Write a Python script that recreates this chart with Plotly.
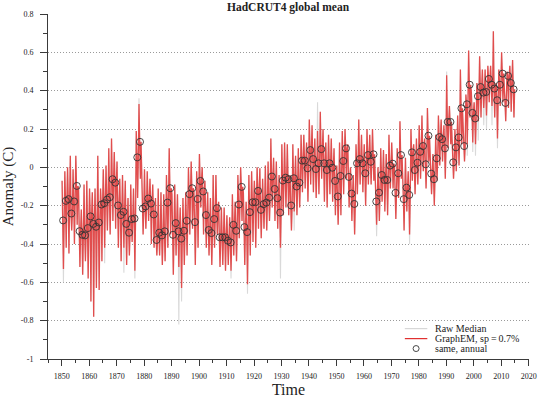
import plotly.graph_objects as go

# ---------------- data ----------------
years = list(range(1850, 2015))

annual = [
    -0.277, -0.175, -0.166, -0.241, -0.178, -0.097, -0.333, -0.352, -0.355, -0.317,  # 1850s
    -0.256, -0.295, -0.310, -0.288, -0.194, -0.187, -0.168, -0.156, -0.062, -0.080,  # 1860s
    -0.199, -0.249, -0.232, -0.295, -0.341, -0.270, -0.267, 0.052, 0.133, -0.215,    # 1870s
    -0.204, -0.163, -0.189, -0.246, -0.379, -0.341, -0.355, -0.334, -0.184, -0.109,  # 1880s
    -0.352, -0.291, -0.334, -0.372, -0.331, -0.279, -0.140, -0.109, -0.286, -0.165,  # 1890s
    -0.071, -0.126, -0.249, -0.327, -0.343, -0.270, -0.213, -0.365, -0.365, -0.365,  # 1900s
    -0.383, -0.392, -0.300, -0.331, -0.194, -0.102, -0.312, -0.338, -0.234, -0.182,  # 1910s
    -0.182, -0.123, -0.222, -0.192, -0.184, -0.158, -0.048, -0.113, -0.161, -0.236,  # 1920s
    -0.069, -0.054, -0.062, -0.199, -0.057, -0.100, -0.080, 0.035, 0.035, -0.005,    # 1930s
    0.090, 0.043, -0.009, 0.021, 0.095, 0.021, -0.014, 0.021, -0.002, -0.071,        # 1940s
    -0.152, -0.045, 0.033, 0.099, -0.050, -0.137, -0.191, 0.021, 0.043, 0.021,       # 1950s
    -0.031, 0.064, 0.029, 0.068, -0.178, -0.132, -0.040, -0.066, -0.066, 0.009,      # 1960s
    0.019, -0.133, -0.031, 0.064, -0.166, -0.106, -0.144, 0.078, -0.014, 0.024,      # 1970s
    0.081, 0.111, 0.016, 0.165, -0.033, -0.062, 0.047, 0.158, 0.147, 0.099,          # 1980s
    0.237, 0.237, 0.026, 0.104, 0.156, 0.308, 0.111, 0.329, 0.431, 0.284,            # 1990s
    0.255, 0.371, 0.419, 0.390, 0.393, 0.461, 0.431, 0.411, 0.350, 0.431,            # 2000s
    0.489, 0.336, 0.477, 0.440, 0.407,                                               # 2010s
]

# monthly GraphEM series, summarised by the upper / lower excursion in each year
graphem_hi = [
    -0.07, -0.02, 0.00, 0.06, -0.01, 0.06, -0.11, -0.22, -0.09, -0.07,
    -0.11, -0.13, -0.11, 0.06, -0.11, -0.01, 0.01, 0.10, 0.15, 0.08,
    0.03, -0.06, -0.04, -0.07, -0.16, -0.09, -0.11, 0.19, 0.33, -0.04,
    -0.01, -0.02, -0.06, -0.09, -0.16, -0.11, -0.13, -0.14, -0.04, 0.10,
    -0.14, -0.09, -0.14, -0.21, -0.16, -0.13, 0.00, 0.03, -0.13, -0.02,
    0.07, 0.00, -0.07, -0.13, -0.16, -0.04, -0.04, -0.18, -0.21, -0.21,
    -0.25, -0.26, -0.14, -0.18, -0.04, 0.00, -0.13, -0.18, -0.04, -0.02,
    -0.07, 0.00, -0.005, -0.06, 0.01, 0.03, 0.15, 0.05, 0.03, -0.04,
    0.12, 0.13, 0.12, -0.04, 0.12, 0.06, 0.10, 0.17, 0.17, 0.13,
    0.25, 0.22, 0.15, 0.19, 0.29, 0.20, 0.13, 0.17, 0.15, 0.10,
    0.01, 0.13, 0.19, 0.20, 0.12, 0.00, -0.04, 0.12, 0.25, 0.17,
    0.12, 0.20, 0.17, 0.20, -0.02, 0.00, 0.10, 0.09, 0.07, 0.17,
    0.13, 0.01, 0.10, 0.24, -0.02, 0.05, -0.02, 0.20, 0.12, 0.15,
    0.22, 0.27, 0.15, 0.31, 0.08, 0.07, 0.17, 0.27, 0.25, 0.22,
    0.48, 0.32, 0.13, 0.20, 0.27, 0.51, 0.22, 0.38, 0.61, 0.39,
    0.34, 0.44, 0.58, 0.51, 0.51, 0.53, 0.53, 0.71, 0.44, 0.51,
    0.60, 0.43, 0.50, 0.53, 0.56,
]
graphem_lo = [
    -0.53, -0.42, -0.45, -0.33, -0.40, -0.30, -0.52, -0.56, -0.49, -0.58,
    -0.70, -0.78, -0.63, -0.64, -0.49, -0.42, -0.33, -0.35, -0.28, -0.32,
    -0.42, -0.49, -0.42, -0.51, -0.46, -0.39, -0.54, -0.16, -0.06, -0.35,
    -0.32, -0.28, -0.40, -0.42, -0.46, -0.46, -0.51, -0.49, -0.42, -0.35,
    -0.56, -0.46, -0.52, -0.63, -0.51, -0.46, -0.35, -0.32, -0.51, -0.42,
    -0.21, -0.35, -0.42, -0.46, -0.51, -0.42, -0.35, -0.52, -0.51, -0.54,
    -0.51, -0.54, -0.46, -0.49, -0.37, -0.28, -0.51, -0.61, -0.46, -0.39,
    -0.42, -0.32, -0.37, -0.32, -0.33, -0.28, -0.21, -0.28, -0.32, -0.42,
    -0.25, -0.21, -0.25, -0.33, -0.23, -0.25, -0.21, -0.13, -0.11, -0.18,
    -0.09, -0.13, -0.16, -0.14, -0.06, -0.18, -0.21, -0.14, -0.18, -0.25,
    -0.30, -0.25, -0.14, -0.06, -0.21, -0.28, -0.35, -0.14, -0.09, -0.13,
    -0.20, -0.09, -0.09, -0.07, -0.30, -0.28, -0.18, -0.23, -0.25, -0.11,
    -0.11, -0.27, -0.16, -0.06, -0.33, -0.23, -0.35, -0.07, -0.14, -0.09,
    -0.06, -0.02, -0.11, 0.03, -0.14, -0.20, -0.07, 0.01, 0.03, -0.06,
    0.10, 0.12, -0.06, -0.02, 0.01, 0.12, 0.03, 0.12, 0.26, 0.13,
    0.12, 0.24, 0.26, 0.31, 0.27, 0.34, 0.32, 0.26, 0.15, 0.32,
    0.34, 0.24, 0.31, 0.29, 0.26,
]

# raw median: same excursions except where it visibly reaches beyond the GraphEM curve
raw_hi_extra = {1878: 0.36, 1943: 0.34, 1990: 0.50}
raw_lo_extra = {1850: -0.60, 1865: -0.50, 1872: -0.55, 1876: -0.58, 1892: -0.82,
                1893: -0.70, 1911: -0.58, 1917: -0.66, 1929: -0.58, 1934: -0.33,
                1964: -0.36, 1976: -0.40, 1997: 0.06, 1999: 0.08, 2000: 0.06,
                2001: 0.14, 2003: 0.22, 2004: 0.20, 2006: 0.22, 2008: 0.10}
raw_hi = [raw_hi_extra.get(y, v) for y, v in zip(years, graphem_hi)]
raw_lo = [raw_lo_extra.get(y, v) for y, v in zip(years, graphem_lo)]

x_ticks = list(range(1850, 2021, 10))
y_ticks = [-1, -0.8, -0.6, -0.4, -0.2, 0, 0.2, 0.4, 0.6, 0.8]
y_ticktext = ["-1", "-0.8", "-0.6", "-0.4", "-0.2", "0", "0.2", "0.4", "0.6", "0.8"]
y_minor = [-0.9, -0.7, -0.5, -0.3, -0.1, 0.1, 0.3, 0.5, 0.7]


def within_year(hi, lo, mid):
    xs, ys = [], []
    for yr, h, l, m in zip(years, hi, lo, mid):
        xs += [yr + 0.125, yr + 0.375, yr + 0.625, yr + 0.875]
        ys += [h, m, l, m]
    return xs, ys


FONT = "Liberation Serif"
AX = "#3a3a3a"
RED = "rgba(226,52,52,0.85)"
GRAY = "#d9d9d9"

fig = go.Figure()
rx, ry = within_year(raw_hi, raw_lo, annual)
fig.add_trace(go.Scatter(x=rx, y=ry, mode="lines", line=dict(color=GRAY, width=1.1),
                         name="Raw Median", showlegend=False, hoverinfo="skip"))
gx, gy = within_year(graphem_hi, graphem_lo, annual)
fig.add_trace(go.Scatter(x=gx, y=gy, mode="lines", line=dict(color=RED, width=1.3),
                         name="GraphEM, sp=0.7%", showlegend=False))
fig.add_trace(go.Scatter(x=[y + 0.5 for y in years], y=annual, mode="markers",
                         marker=dict(symbol="circle-open", size=7, color="#333333",
                                     line=dict(width=0.9, color="#333333")),
                         name="same, annual", showlegend=False))

L, R, T, B = 45, 6, 14, 40
W, H = 543, 401
pw, ph = W - L - R, H - T - B


def px_x(p):
    return (p - L) / pw


def px_y(p):
    return (H - B - p) / ph


legend_y = [330.5, 340.5, 350.5]
shapes = [
    dict(type="line", xref="paper", yref="paper", x0=px_x(410), x1=px_x(433),
         y0=px_y(legend_y[0]), y1=px_y(legend_y[0]), line=dict(color="#cfcfcf", width=1)),
    dict(type="line", xref="paper", yref="paper", x0=px_x(410), x1=px_x(433),
         y0=px_y(legend_y[1]), y1=px_y(legend_y[1]), line=dict(color="#e03030", width=1.2)),
    dict(type="circle", xref="paper", yref="paper", xsizemode="pixel", ysizemode="pixel",
         xanchor=px_x(421.5), yanchor=px_y(legend_y[2]), x0=-3, x1=3, y0=-3, y1=3,
         line=dict(color="#333333", width=0.9)),
]
legend_text = ["Raw Median", "GraphEM, sp\u2009=\u20090.7%", "same, annual"]
annotations = [
    dict(text=t, xref="paper", yref="paper", x=px_x(439), y=px_y(yy), xanchor="left",
         yanchor="middle", showarrow=False, font=dict(family=FONT, size=10, color="#222222"))
    for t, yy in zip(legend_text, legend_y)
]
annotations.append(dict(text="<b>HadCRUT4 global mean</b>", xref="paper", yref="paper",
                        x=0.5, y=px_y(7.5), yanchor="middle", showarrow=False,
                        font=dict(family=FONT, size=11.5, color="#222222")))

fig.update_layout(
    width=W, height=H,
    margin=dict(l=L, r=R, t=T, b=B),
    paper_bgcolor="white", plot_bgcolor="white",
    font=dict(family=FONT, color="#222222"),
    shapes=shapes, annotations=annotations,
    xaxis=dict(range=[1845, 2020.1], tickmode="array", tickvals=x_ticks,
               ticks="outside", ticklen=6, tickwidth=1, tickcolor=AX,
               showline=True, linecolor=AX, linewidth=1, showgrid=False, zeroline=False,
               tickfont=dict(family=FONT, size=8, color="#222222"), ticklabelstandoff=3,
               ticklabeloverflow="allow",
               minor=dict(tickmode="linear", tick0=1845, dtick=10, ticks="outside",
                          ticklen=3, tickcolor=AX, showgrid=False),
               title=dict(text="Time", font=dict(family=FONT, size=16, color="#222222"),
                          standoff=3)),
    yaxis=dict(range=[-1, 0.8], tickmode="array", tickvals=y_ticks, ticktext=y_ticktext,
               ticks="outside", ticklen=7, tickwidth=1, tickcolor=AX,
               showline=True, linecolor=AX, linewidth=1, zeroline=False,
               showgrid=True, gridcolor="#9a9a9a", griddash="1px,2px", gridwidth=1,
               tickfont=dict(family=FONT, size=8, color="#222222"), ticklabelstandoff=5,
               minor=dict(tickmode="array", tickvals=y_minor, ticks="outside",
                          ticklen=4, tickcolor=AX, showgrid=False),
               title=dict(text="Anomaly (C)", font=dict(family=FONT, size=15, color="#222222"),
                          standoff=4)),
)

fig.write_html("out.html")
